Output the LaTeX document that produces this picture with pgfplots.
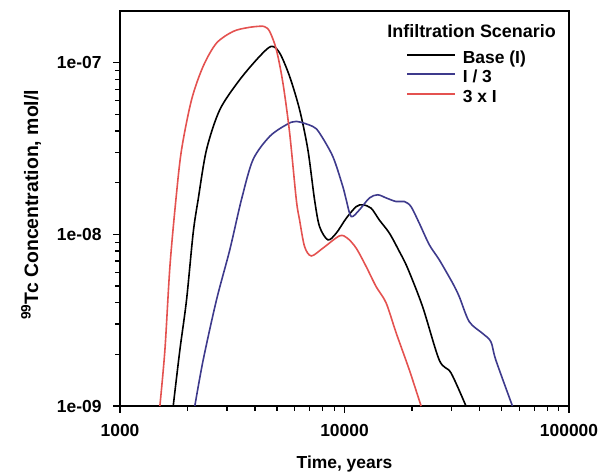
\documentclass[border=0pt]{standalone}
\usepackage{fontspec}
\setmainfont{Liberation Sans}
\usepackage{pgfplots}
\pgfplotsset{compat=1.18}
\definecolor{cblue}{RGB}{62,58,140}
\definecolor{cred}{RGB}{228,82,80}
\newcommand{\ff}{\bfseries\fontsize{17.5}{21}\selectfont}
\begin{document}
\begin{tikzpicture}
\begin{axis}[
  at={(0,0)}, anchor=south west,
  scale only axis, width=449bp, height=395bp,
  xmode=log, ymode=log,
  xmin=1000, xmax=100000, ymin=1e-9, ymax=2e-7,
  xtick={1000,10000,100000}, xticklabels={1000,10000,100000},
  ytick={1e-9,1e-8,1e-7}, yticklabels={1e-09,1e-08,1e-07},
  tick pos=left, tick align=outside,
  major tick length=7bp, minor tick length=5bp,
  axis line style={line width=1.1bp},
  major tick style={draw=black, line width=1.6bp},
  minor tick style={draw=black, line width=1.4bp},
  tick label style={font=\ff},
  xticklabel style={yshift=-8bp},
  yticklabel style={xshift=-8bp},
  xlabel={Time, years}, ylabel={\textsuperscript{99}Tc Concentration, mol/l},
  xlabel style={font=\ff, at={(axis description cs:0.5,-0.146)}, anchor=center},
  ylabel style={font=\bfseries\fontsize{19.5}{23}\selectfont, at={(axis description cs:-0.198,0.509)}, anchor=center},
  legend style={at={(axis description cs:0.63,0.910)}, anchor=north west, draw=none, fill=none, font=\ff, row sep=1.5bp},
  legend cell align=left,
  legend image code/.code={\draw[#1, line width=2bp] (0bp,3bp) -- (48bp,3bp); \path (53bp,3bp);},
  clip=false,
  after end axis/.code={
    \foreach \x in {1000,10000,100000}
      \draw[line width=1.6bp] (axis cs:\x,1e-9) -- ++(0,-7bp);
    \foreach \x in {2000,3000,4000,5000,6000,7000,8000,9000,20000,30000,40000,50000,60000,70000,80000,90000}
      \draw[line width=1.4bp] (axis cs:\x,1e-9) -- ++(0,-5bp);
    \foreach \y in {1e-9,1e-8,1e-7}
      \draw[line width=1.6bp] (axis cs:1000,\y) -- ++(-7bp,0);
    \foreach \y in {2e-9,3e-9,4e-9,5e-9,6e-9,7e-9,8e-9,9e-9,2e-8,3e-8,4e-8,5e-8,6e-8,7e-8,8e-8,9e-8}
      \draw[line width=1.4bp] (axis cs:1000,\y) -- ++(-5bp,0);
  },
]
\addplot[black, line width=1.6bp, smooth, tension=0.5] coordinates {
(1726,1e-9) (1848,2.12e-9) (1979,4.15e-9) (2118,1.02e-8) (2228,1.59e-8)
(2428,3.11e-8) (2783,5.32e-8) (3415,7.96e-8) (4191,1.09e-7) (4723,1.245e-7)
(5141,1.14e-7) (5695,8.32e-8) (6310,5.32e-8) (6869,3.11e-8) (7356,1.59e-8)
(7743,1.11e-8) (8430,9.29e-9) (9187,1.016e-8) (10176,1.24e-8) (11273,1.45e-8)
(12060,1.486e-8) (13145,1.42e-8) (14310,1.21e-8) (15850,1.016e-8) (17560,7.94e-9)
(19110,6.35e-9) (22280,3.79e-9) (26440,1.85e-9) (29800,1.56e-9) (34750,1.0e-9)
};
\addlegendentry{Base (I)}
\addplot[cblue, line width=1.6bp, smooth, tension=0.5] coordinates {
(2154,1e-9) (2346,1.85e-9) (2690,4.15e-9) (3083,8.12e-9) (3474,1.59e-8)
(3912,2.72e-8) (4642,3.72e-8) (5507,4.35e-8) (6100,4.55e-8) (7229,4.25e-8)
(7743,3.89e-8) (8872,2.84e-8) (9826,1.90e-8) (10176,1.59e-8) (10710,1.27e-8)
(11660,1.39e-8) (12915,1.63e-8) (14060,1.70e-8) (15320,1.63e-8) (16980,1.553e-8)
(18480,1.553e-8) (19790,1.45e-8) (21540,1.16e-8) (23870,8.69e-9) (26440,7.10e-9)
(30290,5.21e-9) (32440,4.34e-9) (35940,3.1e-9) (41180,2.65e-9) (44870,2.37e-9)
(47230,1.85e-9) (55980,1.0e-9)
};
\addlegendentry{I / 3}
\addplot[cred, line width=1.6bp, smooth, tension=0.5] coordinates {
(1505,1e-9) (1585,2.12e-9) (1668,6.46e-9) (1774,1.59e-8) (1880,3.11e-8)
(2083,6.08e-8) (2346,9.52e-8) (2690,1.30e-7) (3189,1.52e-7) (3700,1.60e-7)
(4191,1.63e-7) (4410,1.62e-7) (4642,1.52e-7) (4972,1.19e-7) (5318,7.61e-8)
(5695,3.91e-8) (6100,1.59e-8) (6310,1.21e-8) (6640,8.49e-9) (7112,7.49e-9)
(8010,8.31e-9) (9500,9.8e-9) (10300,9.5e-9) (11273,8.31e-9) (12490,6.49e-9)
(13830,4.96e-9) (15320,3.99e-9) (16980,2.67e-9) (19450,1.62e-9) (21930,1.0e-9)
};
\addlegendentry{3 x I}
\node[font=\bfseries\fontsize{18}{21}\selectfont, anchor=center] at (axis description cs:0.783,0.949) {Infiltration Scenario};
\end{axis}
\pgfresetboundingbox
\path (-120bp,-67bp) rectangle (484bp,406bp);
\end{tikzpicture}
\end{document}
